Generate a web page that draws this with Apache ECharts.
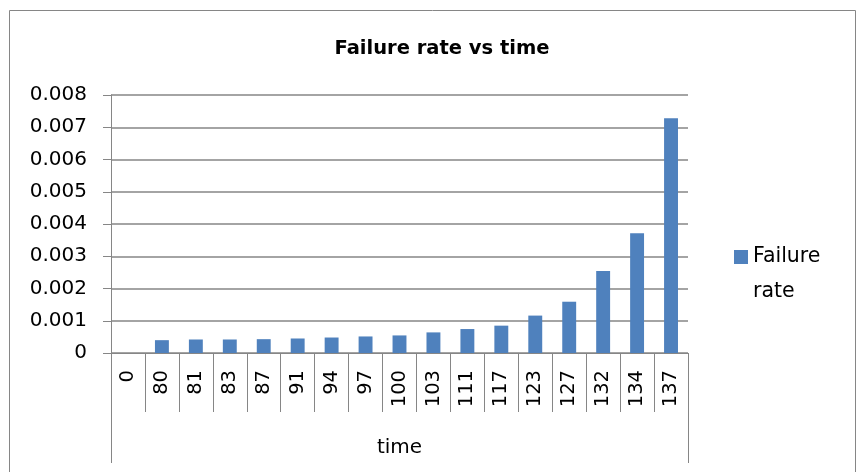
<!DOCTYPE html>
<html>
<head>
<meta charset="utf-8">
<script src="https://cdn.jsdelivr.net/npm/echarts@6/dist/echarts.min.js"></script>
<style>
html,body{margin:0;padding:0;background:#fff;}
#main{width:857px;height:472px;}
</style>
</head>
<body>
<div id="main"></div>
<script>
const categories = ['0','80','81','83','87','91','94','97','100','103','111','117','123','127','132','134','137'];
const failureRate = [0, 0.000398, 0.000419, 0.000419, 0.000429, 0.00045, 0.00048, 0.000513, 0.000545, 0.000639, 0.000743, 0.000848, 0.00116, 0.00159, 0.00254, 0.00371, 0.00728];
const yTicks = ['0','0.001','0.002','0.003','0.004','0.005','0.006','0.007','0.008'];
const seriesName = 'Failure rate';
const axisTitle = 'time';

const FONT = 'DejaVu Sans';
const GRAY = '#868686';
const chart = echarts.init(document.getElementById('main'));
chart.setOption({
  animation: false,
  textStyle: {fontFamily: FONT},
  title: {
    text: 'Failure rate vs time',
    left: 437, top: 34, textAlign: 'center',
    textStyle: {fontFamily: FONT, fontWeight: 'bold', fontSize: 19.5, color: '#000'}
  },
  graphic: [{
    type: 'rect', silent: true,
    shape: {x: 9.5, y: 10.5, width: 846, height: 500},
    style: {fill: 'none', stroke: GRAY, lineWidth: 1}
  }],
  legend: {
    left: 729, top: 234,
    itemWidth: 14, itemHeight: 48, itemGap: 0,
    icon: 'path://M0,0h14v14h-14z M13.95,47.95h0.05v0.05h-0.05z',
    formatter: function (n) { return n.replace(' ', '\n'); },
    textStyle: {fontFamily: FONT, fontSize: 20.5, color: '#000', lineHeight: 35}
  },
  grid: {left: 111, top: 95, right: 169, bottom: 119, containLabel: false},
  xAxis: [{
    type: 'category',
    data: categories,
    position: 'bottom',
    offset: 0,
    axisLine: {show: true, lineStyle: {color: GRAY, width: 1}},
    axisTick: {show: true, alignWithLabel: false, interval: 0, length: 59, lineStyle: {color: GRAY}},
    axisLabel: {interval: 0, rotate: 90, margin: 17, fontFamily: FONT, fontSize: 19.5, color: '#000'}
  }, {
    type: 'category',
    data: [axisTitle],
    position: 'bottom',
    offset: 0,
    axisLine: {show: false},
    axisTick: {show: true, length: 110, lineStyle: {color: GRAY}},
    axisLabel: {margin: 85, fontFamily: FONT, fontSize: 20, color: '#000'}
  }],
  yAxis: {
    type: 'value',
    min: 0, max: 0.008, interval: 0.001,
    axisLine: {show: true, lineStyle: {color: GRAY, width: 1}},
    axisTick: {show: true, length: 8, lineStyle: {color: GRAY}},
    splitLine: {show: true, lineStyle: {color: GRAY, width: 1.5}},
    axisLabel: {
      margin: 24, fontFamily: FONT, fontSize: 20, color: '#000',
      formatter: function (v) { return yTicks[Math.round(v / 0.001)]; }
    }
  },
  series: [{
    name: seriesName,
    type: 'bar',
    data: failureRate,
    barWidth: '41%',
    itemStyle: {color: '#4F81BD'}
  }]
});
</script>
</body>
</html>
